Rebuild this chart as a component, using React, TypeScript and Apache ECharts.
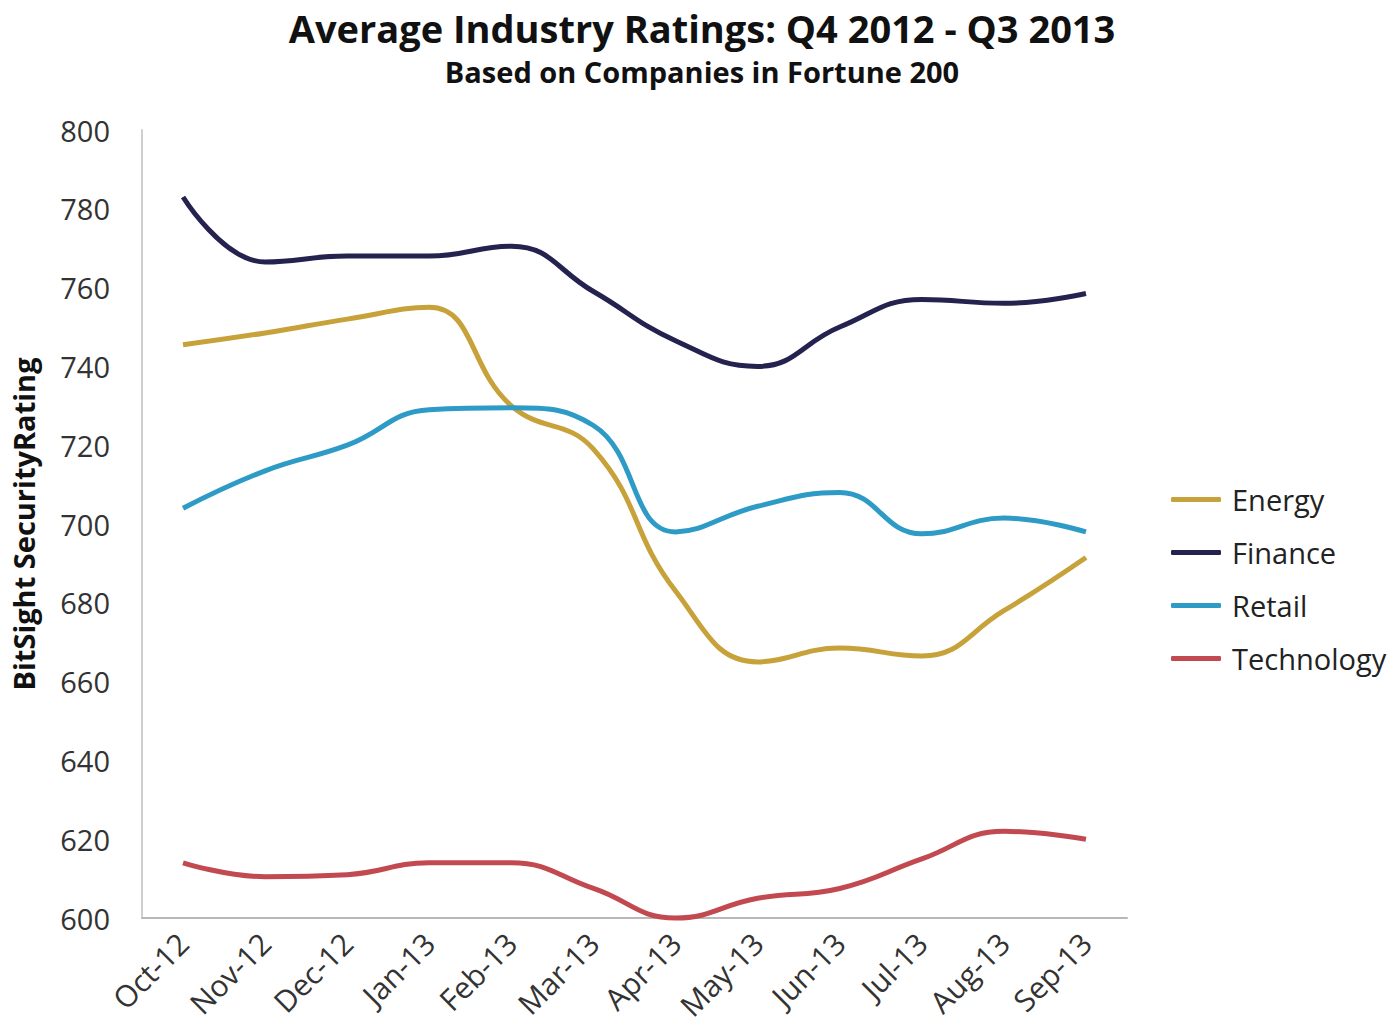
import React, { useEffect, useRef } from "react";
import * as echarts from "echarts";

const categories = ["Oct-12", "Nov-12", "Dec-12", "Jan-13", "Feb-13", "Mar-13", "Apr-13", "May-13", "Jun-13", "Jul-13", "Aug-13", "Sep-13"];
const energy = [745.5, 748.5, 752, 755, 730, 719, 683, 665, 668.5, 666.5, 678, 691.5];
const finance = [783, 766.5, 768, 768, 770.5, 759, 746.5, 740, 750, 757, 756, 758.5];
const retail = [704, 713.5, 720, 729, 729.5, 725, 698, 704.5, 708, 697.5, 701.5, 698];
const technology = [614, 610.5, 611, 614, 614, 607.5, 600, 605, 607.5, 615, 622, 620];
const yTicks = [600, 620, 640, 660, 680, 700, 720, 740, 760, 780, 800];

const seriesNames = ["Energy", "Finance", "Retail", "Technology"];
const seriesColors = ["#C7A13A", "#24224F", "#2E9BC6", "#C24950"];
const seriesData = [energy, finance, retail, technology];

const FONT = "'Open Sans', 'Noto Sans', sans-serif";

export default function App() {
  const ref = useRef<HTMLDivElement>(null);
  useEffect(() => {
    if (!ref.current) return;
    const chart = echarts.init(ref.current, undefined, { renderer: "svg" });
    chart.setOption({
      animation: false,
      backgroundColor: "#ffffff",
      title: {
        text: "Average Industry Ratings: Q4 2012 - Q3 2013",
        subtext: "Based on Companies in Fortune 200",
        left: 697,
        textAlign: "center",
        top: 4,
        itemGap: 10,
        textStyle: { fontFamily: FONT, fontWeight: "bold", fontSize: 38, color: "#111" },
        subtextStyle: { fontFamily: FONT, fontWeight: "bold", fontSize: 29, color: "#111" },
      },
      legend: {
        orient: "vertical",
        left: 1166,
        top: 480,
        itemWidth: 50,
        itemHeight: 5,
        itemGap: 24,
        icon: "roundRect",
        data: seriesNames,
        textStyle: { fontFamily: FONT, fontSize: 29, color: "#222", padding: [0, 0, 0, 6] },
      },
      grid: { left: 142, right: 270, top: 130, bottom: 113, containLabel: false },
      xAxis: {
        type: "category",
        data: categories,
        boundaryGap: true,
        axisLine: { show: true, lineStyle: { color: "#b8b8b8", width: 2 } },
        axisTick: { show: false },
        axisLabel: {
          rotate: 45,
          interval: 0,
          margin: 20,
          fontFamily: FONT,
          fontSize: 30,
          color: "#333",
        },
      },
      yAxis: {
        type: "value",
        min: 600,
        max: 800,
        interval: 20,
        name: "BitSight SecurityRating",
        nameLocation: "middle",
        nameGap: 104,
        nameRotate: 90,
        nameTextStyle: { fontFamily: FONT, fontWeight: "bold", fontSize: 29, color: "#111" },
        axisLine: { show: true, lineStyle: { color: "#cfcfcf", width: 2 } },
        axisTick: { show: false },
        splitLine: { show: false },
        axisLabel: {
          margin: 32,
          fontFamily: FONT,
          fontSize: 29,
          color: "#333",
          formatter: (v: number) => (yTicks.includes(v) ? String(v) : ""),
        },
      },
      series: seriesNames.map((name, i) => ({
        name,
        type: "line",
        data: seriesData[i],
        smooth: 0.45,
        symbol: "none",
        clip: false,
        color: seriesColors[i],
        lineStyle: { width: 5, color: seriesColors[i] },
      })),
    });
    return () => chart.dispose();
  }, []);
  return (
    <div
      ref={ref}
      style={{ position: "fixed", left: 0, top: 0, width: 1397, height: 1031 }}
    />
  );
}
